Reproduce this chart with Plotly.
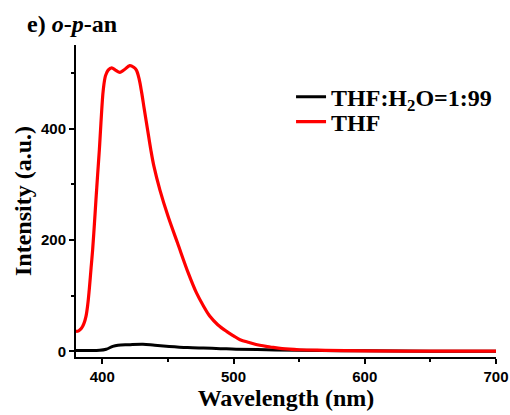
import plotly.graph_objects as go

# Emission spectra of o-p-an
wl_thf = [380, 382, 384, 386, 387.6, 389, 390.1, 391.5, 392.7, 394, 395.2, 396.5,
          397.8, 399, 400.8, 402.5, 404.5, 407.2, 410, 413.5, 417, 421, 424, 426,
          428, 430, 432, 434.6, 437, 439.4, 443.9, 450.2, 457.3, 465.5, 471.8, 477,
          482, 488, 494.7, 500, 505, 512, 520, 528, 537, 550, 570, 600, 650, 700]
int_thf = [36, 37, 41, 50, 63, 85, 111, 150, 183, 228, 272, 318,
           362, 410, 470, 495, 505, 509, 505, 501, 506, 513, 510, 505,
           490, 465, 435, 397, 362, 332, 290, 242, 195, 141, 105, 82,
           63, 48, 36, 28, 21, 16, 11, 8, 5, 3, 2, 1, 0.5, 0.5]

wl_mix = [380, 390, 398, 403, 408, 412, 420, 431, 440, 451, 465, 477, 490, 502,
          525, 550, 600, 650, 700]
int_mix = [1.5, 1.5, 2, 4, 9, 11, 12, 13, 11, 9, 7, 6, 5, 4,
           3, 2, 1, 0.5, 0.5]

serif = "Liberation Serif, Times New Roman, serif"
sans = "Liberation Sans, Arial, sans-serif"

fig = go.Figure()
fig.add_trace(go.Scatter(x=wl_mix, y=int_mix, mode="lines", name="THF:H<sub>2</sub>O=1:99",
                         legend="legend",
                         line=dict(color="black", width=3, shape="spline", smoothing=1.0)))
fig.add_trace(go.Scatter(x=wl_thf, y=int_thf, mode="lines", name="THF",
                         legend="legend2",
                         line=dict(color="#ff0000", width=3.2, shape="spline", smoothing=1.0)))

axis_common = dict(showline=True, linecolor="black", linewidth=2, ticks="outside",
                   tickwidth=2, ticklen=5, tickcolor="black", showgrid=False,
                   zeroline=False, mirror=False, automargin=False,
                   tickfont=dict(family=sans, size=15, color="black", weight="bold"))

legend_common = dict(xanchor="left", yanchor="middle", bgcolor="rgba(0,0,0,0)",
                     borderwidth=0, itemwidth=30,
                     font=dict(family=serif, size=24, color="black", weight="bold"))

fig.update_layout(
    width=510, height=415,
    margin=dict(l=76, r=14, t=45, b=58, autoexpand=False),
    paper_bgcolor="white", plot_bgcolor="white",
    title=dict(text="e) <i>o</i>-<i>p</i>-an", x=0.053, xanchor="left", y=0.943, yanchor="middle",
               font=dict(family=serif, size=24, color="black", weight="bold")),
    xaxis=dict(range=[380, 700], tick0=400, dtick=100,
               minor=dict(dtick=50, ticks="outside", ticklen=3, tickwidth=2, tickcolor="black"),
               title=dict(text="Wavelength (nm)", standoff=5,
                          font=dict(family=serif, size=24, color="black", weight="bold")),
               **axis_common),
    yaxis=dict(range=[-10, 550], tick0=0, dtick=200,
               minor=dict(dtick=100, ticks="outside", ticklen=3, tickwidth=2, tickcolor="black"),
               title=dict(text="Intensity (a.u.)", standoff=3,
                          font=dict(family=serif, size=24, color="black", weight="bold")),
               **axis_common),
    legend=dict(x=0.512, y=0.833, **legend_common),
    legend2=dict(x=0.512, y=0.753, **legend_common),
    showlegend=True,
)

fig.write_html("out.html")
